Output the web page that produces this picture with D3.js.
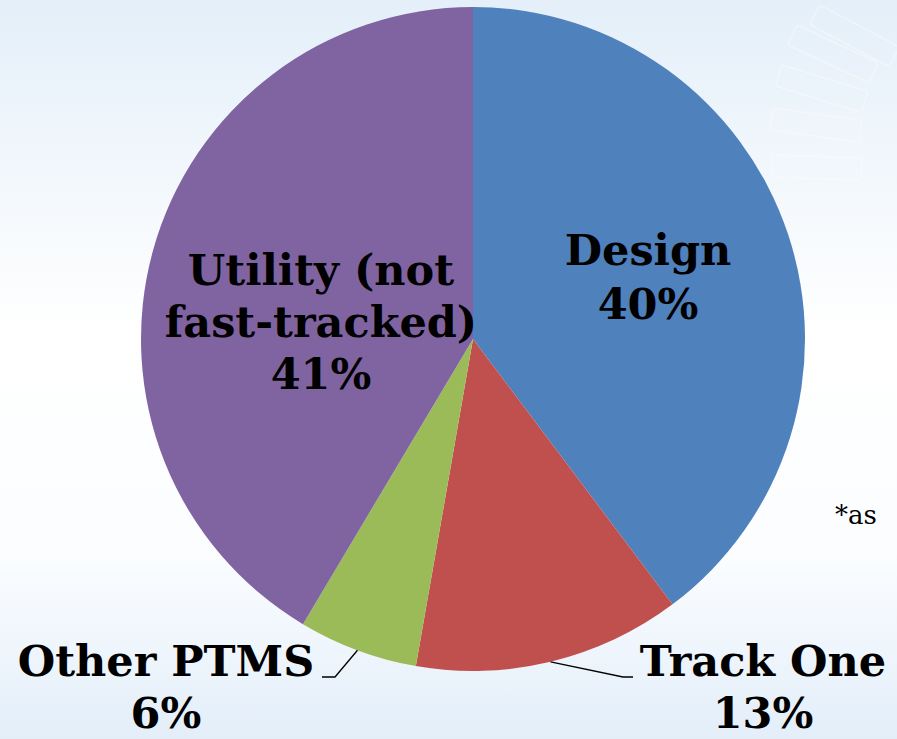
<!DOCTYPE html>
<html><head><meta charset="utf-8">
<script src="https://cdn.jsdelivr.net/npm/d3@7"></script>
<style>html,body{margin:0;padding:0;overflow:hidden;background:#fff}</style>
</head><body>
<script>
const categories = ["Design", "Track One", "Other PTMS", "Utility (not fast-tracked)"];
const values = [39.7, 13.0, 5.8, 41.4];
const colors = ["#4F81BD", "#C0504D", "#9BBB59", "#8064A2"];
const labelLines = [["Design"], ["Track One"], ["Other PTMS"], ["Utility (not", "fast-tracked)"]];
const footnote = "*as";

const W = 897, H = 739;
const svg = d3.select("body").append("svg").attr("width", W).attr("height", H);
const defs = svg.append("defs");
const grad = defs.append("linearGradient").attr("id", "bg").attr("x1", 0).attr("y1", 0).attr("x2", 0).attr("y2", 1);
grad.append("stop").attr("offset", "0%").attr("stop-color", "#e4eff9");
grad.append("stop").attr("offset", "45%").attr("stop-color", "#ffffff");
grad.append("stop").attr("offset", "75%").attr("stop-color", "#fbfdff");
grad.append("stop").attr("offset", "100%").attr("stop-color", "#e3eef9");
svg.append("rect").attr("width", W).attr("height", H).attr("fill", "url(#bg)");

// faint decorative shapes in background
const deco = svg.append("g").attr("fill", "none").attr("stroke", "#ffffff").attr("stroke-width", 1.5).attr("opacity", 0.35);
[[820, 5, 28], [797, 25, 25], [782, 65, 17], [773, 108, 8], [772, 155, 2]].forEach(([x, y, a]) => {
  deco.append("rect").attr("x", x).attr("y", y).attr("width", 90).attr("height", 22).attr("rx", 3)
    .attr("transform", `rotate(${a},${x},${y})`);
});

const cx = 473, cy = 339, R = 332;
const pie = d3.pie().sort(null).value(d => d)(values);
const arc = d3.arc().innerRadius(0).outerRadius(R);
const g = svg.append("g").attr("transform", `translate(${cx},${cy})`);
g.selectAll("path").data(pie).join("path")
  .attr("d", arc).attr("fill", (d, i) => colors[i]);

const fontFam = "'DejaVu Serif', Georgia, serif";
function label(lines, x, y0, lh, size) {
  const t = svg.append("text").attr("text-anchor", "middle")
    .attr("font-family", fontFam).attr("font-weight", "bold")
    .attr("font-size", size).attr("fill", "#000");
  lines.forEach((l, i) => t.append("tspan").attr("x", x).attr("y", y0 + i * lh).text(l));
}
const pct = values.map(v => Math.round(v) + "%");

// label positions (pixel layout)
label([...labelLines[0], pct[0]], 648, 265, 54, 43);
label([...labelLines[3], pct[3]], 321, 285, 52, 43);
label([labelLines[2][0], pct[2]], 166, 676, 52, 43);
label([labelLines[1][0], pct[1]], 763, 676, 52, 43);

// leader lines
const ld = svg.append("g").attr("fill", "none").attr("stroke", "#000").attr("stroke-width", 1.3);
function leader(d, bx, by, ex) {
  const a = (d.startAngle + d.endAngle) / 2;
  const ax = cx + R * Math.sin(a), ay = cy - R * Math.cos(a);
  ld.append("polyline").attr("points", `${ax},${ay} ${bx},${by} ${ex},${by}`);
}
leader(pie[2], 335, 677, 322);
leader(pie[1], 623, 677, 633);

svg.append("text").attr("x", 835).attr("y", 524)
  .attr("font-family", "'DejaVu Serif', serif")
  .attr("font-size", 26).attr("fill", "#000").text(footnote);
</script>
</body></html>
